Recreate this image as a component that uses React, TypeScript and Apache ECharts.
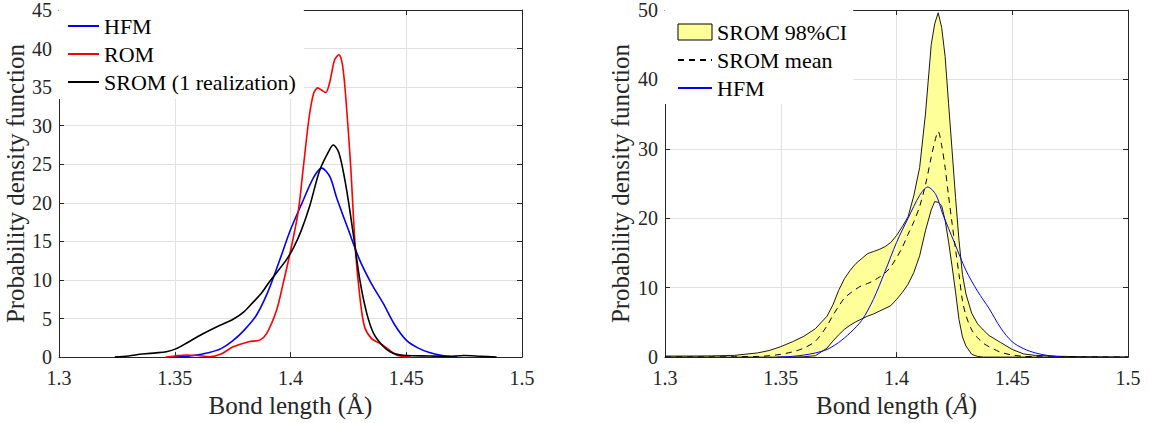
import React, { useEffect, useRef } from "react";
import * as echarts from "echarts";

// ---------- Left panel data ----------
const HFM_X = [1.3485, 1.355, 1.36, 1.365, 1.37, 1.375, 1.38, 1.385, 1.39, 1.395, 1.4, 1.405, 1.41, 1.4135, 1.417, 1.42, 1.425, 1.43, 1.435, 1.44, 1.445, 1.45, 1.455, 1.46, 1.465, 1.472];
const HFM_Y = [0, 0.1, 0.3, 0.6, 1.1, 2.1, 3.5, 5.3, 8.3, 12.3, 16.5, 20.0, 23.3, 24.5, 23.4, 20.6, 16.5, 12.5, 9.5, 7.0, 4.2, 2.2, 1.2, 0.6, 0.25, 0];

const ROM_X = [1.346, 1.35, 1.355, 1.36, 1.365, 1.37, 1.375, 1.382, 1.3867, 1.3896, 1.3939, 1.3967, 1.3996, 1.4033, 1.4055, 1.408, 1.41, 1.4118, 1.4135, 1.4152, 1.417, 1.419, 1.4209, 1.4225, 1.424, 1.426, 1.428, 1.43, 1.432, 1.435, 1.4385, 1.441, 1.445, 1.448, 1.452];
const ROM_Y = [0, 0.15, 0.28, 0.2, 0.05, 0.4, 1.3, 2.0, 2.2, 3.0, 6.0, 9.4, 13.2, 18.8, 24.5, 31.0, 34.2, 34.9, 34.6, 34.3, 35.7, 38.5, 39.2, 37.8, 33.2, 24.7, 14.1, 7.7, 3.9, 2.4, 1.8, 1.3, 0.4, 0.1, 0];

const SROM1_X = [1.3241, 1.33, 1.336, 1.342, 1.3464, 1.3507, 1.355, 1.3608, 1.368, 1.3752, 1.38, 1.3838, 1.3875, 1.391, 1.3982, 1.4015, 1.4045, 1.4083, 1.4126, 1.4169, 1.4185, 1.421, 1.424, 1.427, 1.43, 1.433, 1.436, 1.44, 1.443, 1.446, 1.45, 1.46, 1.468, 1.475, 1.482, 1.489];
const SROM1_Y = [0, 0.15, 0.4, 0.55, 0.7, 1.1, 1.8, 2.8, 3.9, 4.9, 5.9, 7.1, 8.3, 9.8, 12.6, 14.3, 16.3, 19.6, 24.2, 26.9, 27.5, 26.4, 22.1, 16.2, 9.9, 5.6, 3.0, 1.4, 0.7, 0.35, 0.2, 0.15, 0.1, 0.2, 0.1, 0];

// ---------- Right panel data ----------
const CI_X = [1.30, 1.31, 1.32, 1.33, 1.34, 1.345, 1.35, 1.355, 1.36, 1.365, 1.37, 1.3725, 1.375, 1.3775, 1.38, 1.3825, 1.385, 1.3875, 1.39, 1.3925, 1.395, 1.3975, 1.40, 1.4025, 1.405, 1.4075, 1.41, 1.4125, 1.415, 1.4165, 1.418, 1.4195, 1.421, 1.4225, 1.424, 1.4255, 1.427, 1.4285, 1.43, 1.4325, 1.435, 1.4375, 1.44, 1.445, 1.45, 1.455, 1.46, 1.47, 1.48, 1.49, 1.50];
const CI_UPPER = [0.15, 0.15, 0.17, 0.25, 0.6, 0.95, 1.5, 2.2, 3.0, 4.1, 5.9, 7.5, 9.6, 11.3, 12.5, 13.5, 14.2, 14.9, 15.2, 15.5, 15.9, 16.5, 17.5, 18.8, 20.2, 23.3, 27.3, 35.0, 45.0, 48.0, 49.6, 47.5, 43.3, 36.5, 29.8, 23.0, 16.8, 11.9, 9.1, 6.3, 4.8, 3.9, 3.1, 2.1, 1.1, 0.45, 0.25, 0.12, 0.05, 0.02, 0];
const CI_LOWER = [0, 0, 0, 0, 0, 0, 0, 0, 0.05, 0.2, 1.3, 2.3, 3.2, 4.0, 4.6, 5.1, 5.5, 5.9, 6.2, 6.6, 7.0, 7.4, 8.3, 9.3, 10.5, 12.2, 14.6, 18.2, 21.2, 22.4, 22.3, 21.8, 19.7, 16.6, 13.1, 9.4, 5.4, 2.9, 1.6, 0.4, 0.1, 0, 0, 0, 0, 0, 0, 0, 0, 0, 0];
const SROM_MEAN = [0.03, 0.03, 0.03, 0.05, 0.1, 0.2, 0.4, 0.75, 1.3, 2.3, 4.5, 6.0, 7.3, 8.5, 9.2, 9.8, 10.3, 10.6, 11.0, 11.5, 12.1, 13.0, 14.3, 15.8, 17.7, 19.5, 21.7, 24.8, 28.8, 31.0, 32.5, 30.5, 27.3, 23.2, 19.3, 15.5, 11.9, 8.1, 6.0, 3.9, 2.8, 2.0, 1.5, 0.7, 0.3, 0.1, 0.05, 0.02, 0.02, 0.02, 0.02];

const X_TICKS = [1.3, 1.35, 1.4, 1.45, 1.5];

const zip = (xs: number[], ys: number[]) => xs.map((x, i) => [x, ys[i]]);

const FONT = "Liberation Serif";
const AXIS_COLOR = "#262626";
const GRID_COLOR = "#e1e1e1";
const BAND_COLOR = "#ffff99";

function makeX(gridIndex: number, top: boolean, italicA: boolean) {
  const base: any = {
    gridIndex,
    type: "value",
    min: X_TICKS[0],
    max: X_TICKS[X_TICKS.length - 1],
    interval: 0.05,
    position: top ? "top" : "bottom",
    axisLine: { show: true, onZero: false, lineStyle: { color: AXIS_COLOR, width: 1 } },
    axisTick: { show: true, inside: true, length: 5, lineStyle: { color: AXIS_COLOR } },
    axisLabel: { show: !top, color: AXIS_COLOR, fontFamily: FONT, fontSize: 20, margin: 11 },
    splitLine: { show: !top, lineStyle: { color: GRID_COLOR, width: 1 } },
  };
  if (!top) {
    base.name = italicA ? "Bond length ({i|Å})" : "Bond length (Å)";
    base.nameLocation = "middle";
    base.nameGap = 33;
    base.nameTextStyle = {
      fontFamily: FONT,
      fontSize: 25,
      color: AXIS_COLOR,
      rich: { i: { fontFamily: FONT, fontSize: 25, fontStyle: "italic", color: AXIS_COLOR } },
    };
  }
  return base;
}

function makeY(gridIndex: number, right: boolean, max: number, interval: number, gap: number) {
  const base: any = {
    gridIndex,
    type: "value",
    min: 0,
    max,
    interval,
    position: right ? "right" : "left",
    axisLine: { show: true, onZero: false, lineStyle: { color: AXIS_COLOR, width: 1 } },
    axisTick: { show: true, inside: true, length: 5, lineStyle: { color: AXIS_COLOR } },
    axisLabel: { show: !right, color: AXIS_COLOR, fontFamily: FONT, fontSize: 20, margin: 7 },
    splitLine: { show: !right, lineStyle: { color: GRID_COLOR, width: 1 } },
  };
  if (!right) {
    base.name = "Probability density function";
    base.nameLocation = "middle";
    base.nameGap = gap;
    base.nameTextStyle = { fontFamily: FONT, fontSize: 25, color: AXIS_COLOR };
  }
  return base;
}

const legendCommon = {
  orient: "vertical",
  backgroundColor: "#ffffff",
  selectedMode: false,
  itemGap: 6,
  itemStyle: { opacity: 0 },
  textStyle: { fontFamily: FONT, fontSize: 22, color: "#000", lineHeight: 20 },
};

export default function App() {
  const ref = useRef<HTMLDivElement>(null);
  useEffect(() => {
    if (!ref.current) return;
    const chart = echarts.init(ref.current, null, { renderer: "svg" });
    const option: any = {
      animation: false,
      backgroundColor: "#ffffff",
      grid: [
        { left: 59, top: 7, width: 463, height: 353.5 },
        { left: 665, top: 7, width: 463, height: 353.5 },
      ],
      xAxis: [makeX(0, false, false), makeX(0, true, false), makeX(1, false, true), makeX(1, true, true)],
      yAxis: [makeY(0, false, 45, 5, 29), makeY(0, true, 45, 5, 0), makeY(1, false, 50, 10, 32), makeY(1, true, 50, 10, 0)],
      legend: [
        {
          ...legendCommon,
          left: 59,
          top: 7,
          padding: [8, 8, 6, 8],
          itemWidth: 31,
          itemHeight: 14,
          data: ["HFM", "ROM", "SROM (1 realization)"],
        },
        {
          ...legendCommon,
          left: 665,
          top: 7,
          padding: [14, 6, 5, 12],
          itemWidth: 34,
          itemHeight: 16,
          data: [
            { name: "SROM 98%CI", icon: "rect", itemStyle: { opacity: 1, color: BAND_COLOR, borderColor: "#000", borderWidth: 1 } },
            "SROM mean",
            "HFM",
          ],
        },
      ],
      series: [
        {
          name: "HFM", type: "line", xAxisIndex: 0, yAxisIndex: 0, data: zip(HFM_X, HFM_Y),
          symbol: "none", smooth: 0.3, lineStyle: { color: "#0000ff", width: 1.6 }, itemStyle: { color: "#0000ff" }, z: 3,
        },
        {
          name: "ROM", type: "line", xAxisIndex: 0, yAxisIndex: 0, data: zip(ROM_X, ROM_Y),
          symbol: "none", smooth: 0.3, lineStyle: { color: "#ff0000", width: 1.6 }, itemStyle: { color: "#ff0000" }, z: 3,
        },
        {
          name: "SROM (1 realization)", type: "line", xAxisIndex: 0, yAxisIndex: 0, data: zip(SROM1_X, SROM1_Y),
          symbol: "none", smooth: 0.3, lineStyle: { color: "#000000", width: 1.6 }, itemStyle: { color: "#000000" }, z: 3,
        },
        {
          name: "SROM 98%CI",
          type: "custom",
          xAxisIndex: 2,
          yAxisIndex: 2,
          clip: true,
          z: 2,
          itemStyle: { color: BAND_COLOR },
          data: [[CI_X[0], 0]],
          encode: { x: 0, y: 1 },
          renderItem: (params: any, api: any) => {
            const upper = CI_X.map((x, i) => api.coord([x, CI_UPPER[i]]));
            const lower = CI_X.map((x, i) => api.coord([x, CI_LOWER[i]])).reverse();
            return {
              type: "polygon",
              shape: { points: upper.concat(lower) },
              style: { fill: BAND_COLOR, stroke: "#000000", lineWidth: 0.9 },
            };
          },
        },
        {
          name: "SROM mean", type: "line", xAxisIndex: 2, yAxisIndex: 2, data: zip(CI_X, SROM_MEAN),
          symbol: "none", smooth: 0.3, lineStyle: { color: "#000000", width: 1, type: [6, 5] }, itemStyle: { color: "#000" }, z: 4,
        },
        {
          name: "HFM", type: "line", xAxisIndex: 2, yAxisIndex: 2, data: zip(HFM_X, HFM_Y),
          symbol: "none", smooth: 0.3, lineStyle: { color: "#0000ff", width: 1 }, itemStyle: { color: "#0000ff" }, z: 5,
        },
      ],
    };
    chart.setOption(option);
    return () => chart.dispose();
  }, []);
  return <div ref={ref} style={{ position: "absolute", left: 0, top: 0, width: 1150, height: 423 }} />;
}
